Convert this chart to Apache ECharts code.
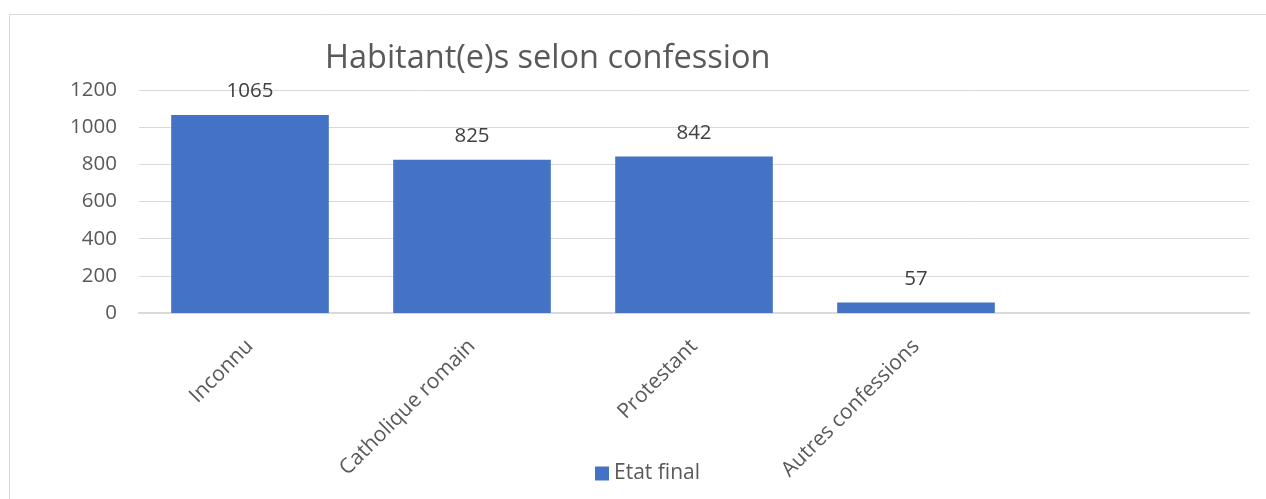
<!DOCTYPE html>
<html><head><meta charset="utf-8">
<script src="https://cdn.jsdelivr.net/npm/echarts@6/dist/echarts.min.js"></script>
<style>html,body{margin:0;padding:0;background:#fff}#c{width:1266px;height:499px}</style>
</head><body><div id="c"></div>
<script>
const categories = ["Inconnu", "Catholique romain", "Protestant", "Autres confessions", ""];
const values = [1065, 825, 842, 57, null];
const seriesName = "Etat final";
const titleText = "Habitant(e)s selon confession";
const yTicks = [0, 200, 400, 600, 800, 1000, 1200];

const FONT = "'Open Sans', 'Noto Sans', sans-serif";
const chart = echarts.init(document.getElementById('c'));
chart.setOption({
  animation: false,
  backgroundColor: '#fff',
  graphic: [{
    type: 'rect', shape: {x: 9.5, y: 14.5, width: 1400, height: 600},
    style: {fill: 'none', stroke: '#d9d9d9', lineWidth: 1}, silent: true, z: -1
  }],
  title: {
    text: titleText, left: 320, top: 37,
    textStyle: {fontFamily: FONT, fontSize: 32.5, fontWeight: 'normal', color: '#595959'}
  },
  legend: {
    data: [seriesName], left: 590, top: 458, itemWidth: 14, itemHeight: 14, itemGap: 6, icon: 'rect',
    textStyle: {fontFamily: FONT, fontSize: 21, color: '#595959'}
  },
  grid: {left: 139, right: 17, top: 90, bottom: 186, containLabel: false},
  xAxis: {
    type: 'category', data: categories,
    axisLine: {show: true, lineStyle: {color: '#d9d9d9', width: 2}},
    axisTick: {show: false},
    axisLabel: {interval: 0, rotate: 45, margin: 30, fontFamily: FONT, fontSize: 21, color: '#595959'}
  },
  yAxis: {
    type: 'value', min: yTicks[0], max: yTicks[yTicks.length - 1], interval: 200,
    axisLine: {show: false}, axisTick: {show: false},
    splitLine: {lineStyle: {color: '#d9d9d9', width: 1}},
    axisLabel: {margin: 22, fontFamily: FONT, fontSize: 20.5, color: '#595959', formatter: v => String(v)}
  },
  series: [{
    name: seriesName, type: 'bar', data: values, barCategoryGap: '29%',
    itemStyle: {color: '#4472c4'},
    label: {show: true, position: 'top', distance: 13, fontFamily: FONT, fontSize: 20.5, color: '#404040'}
  }]
});
</script></body></html>
